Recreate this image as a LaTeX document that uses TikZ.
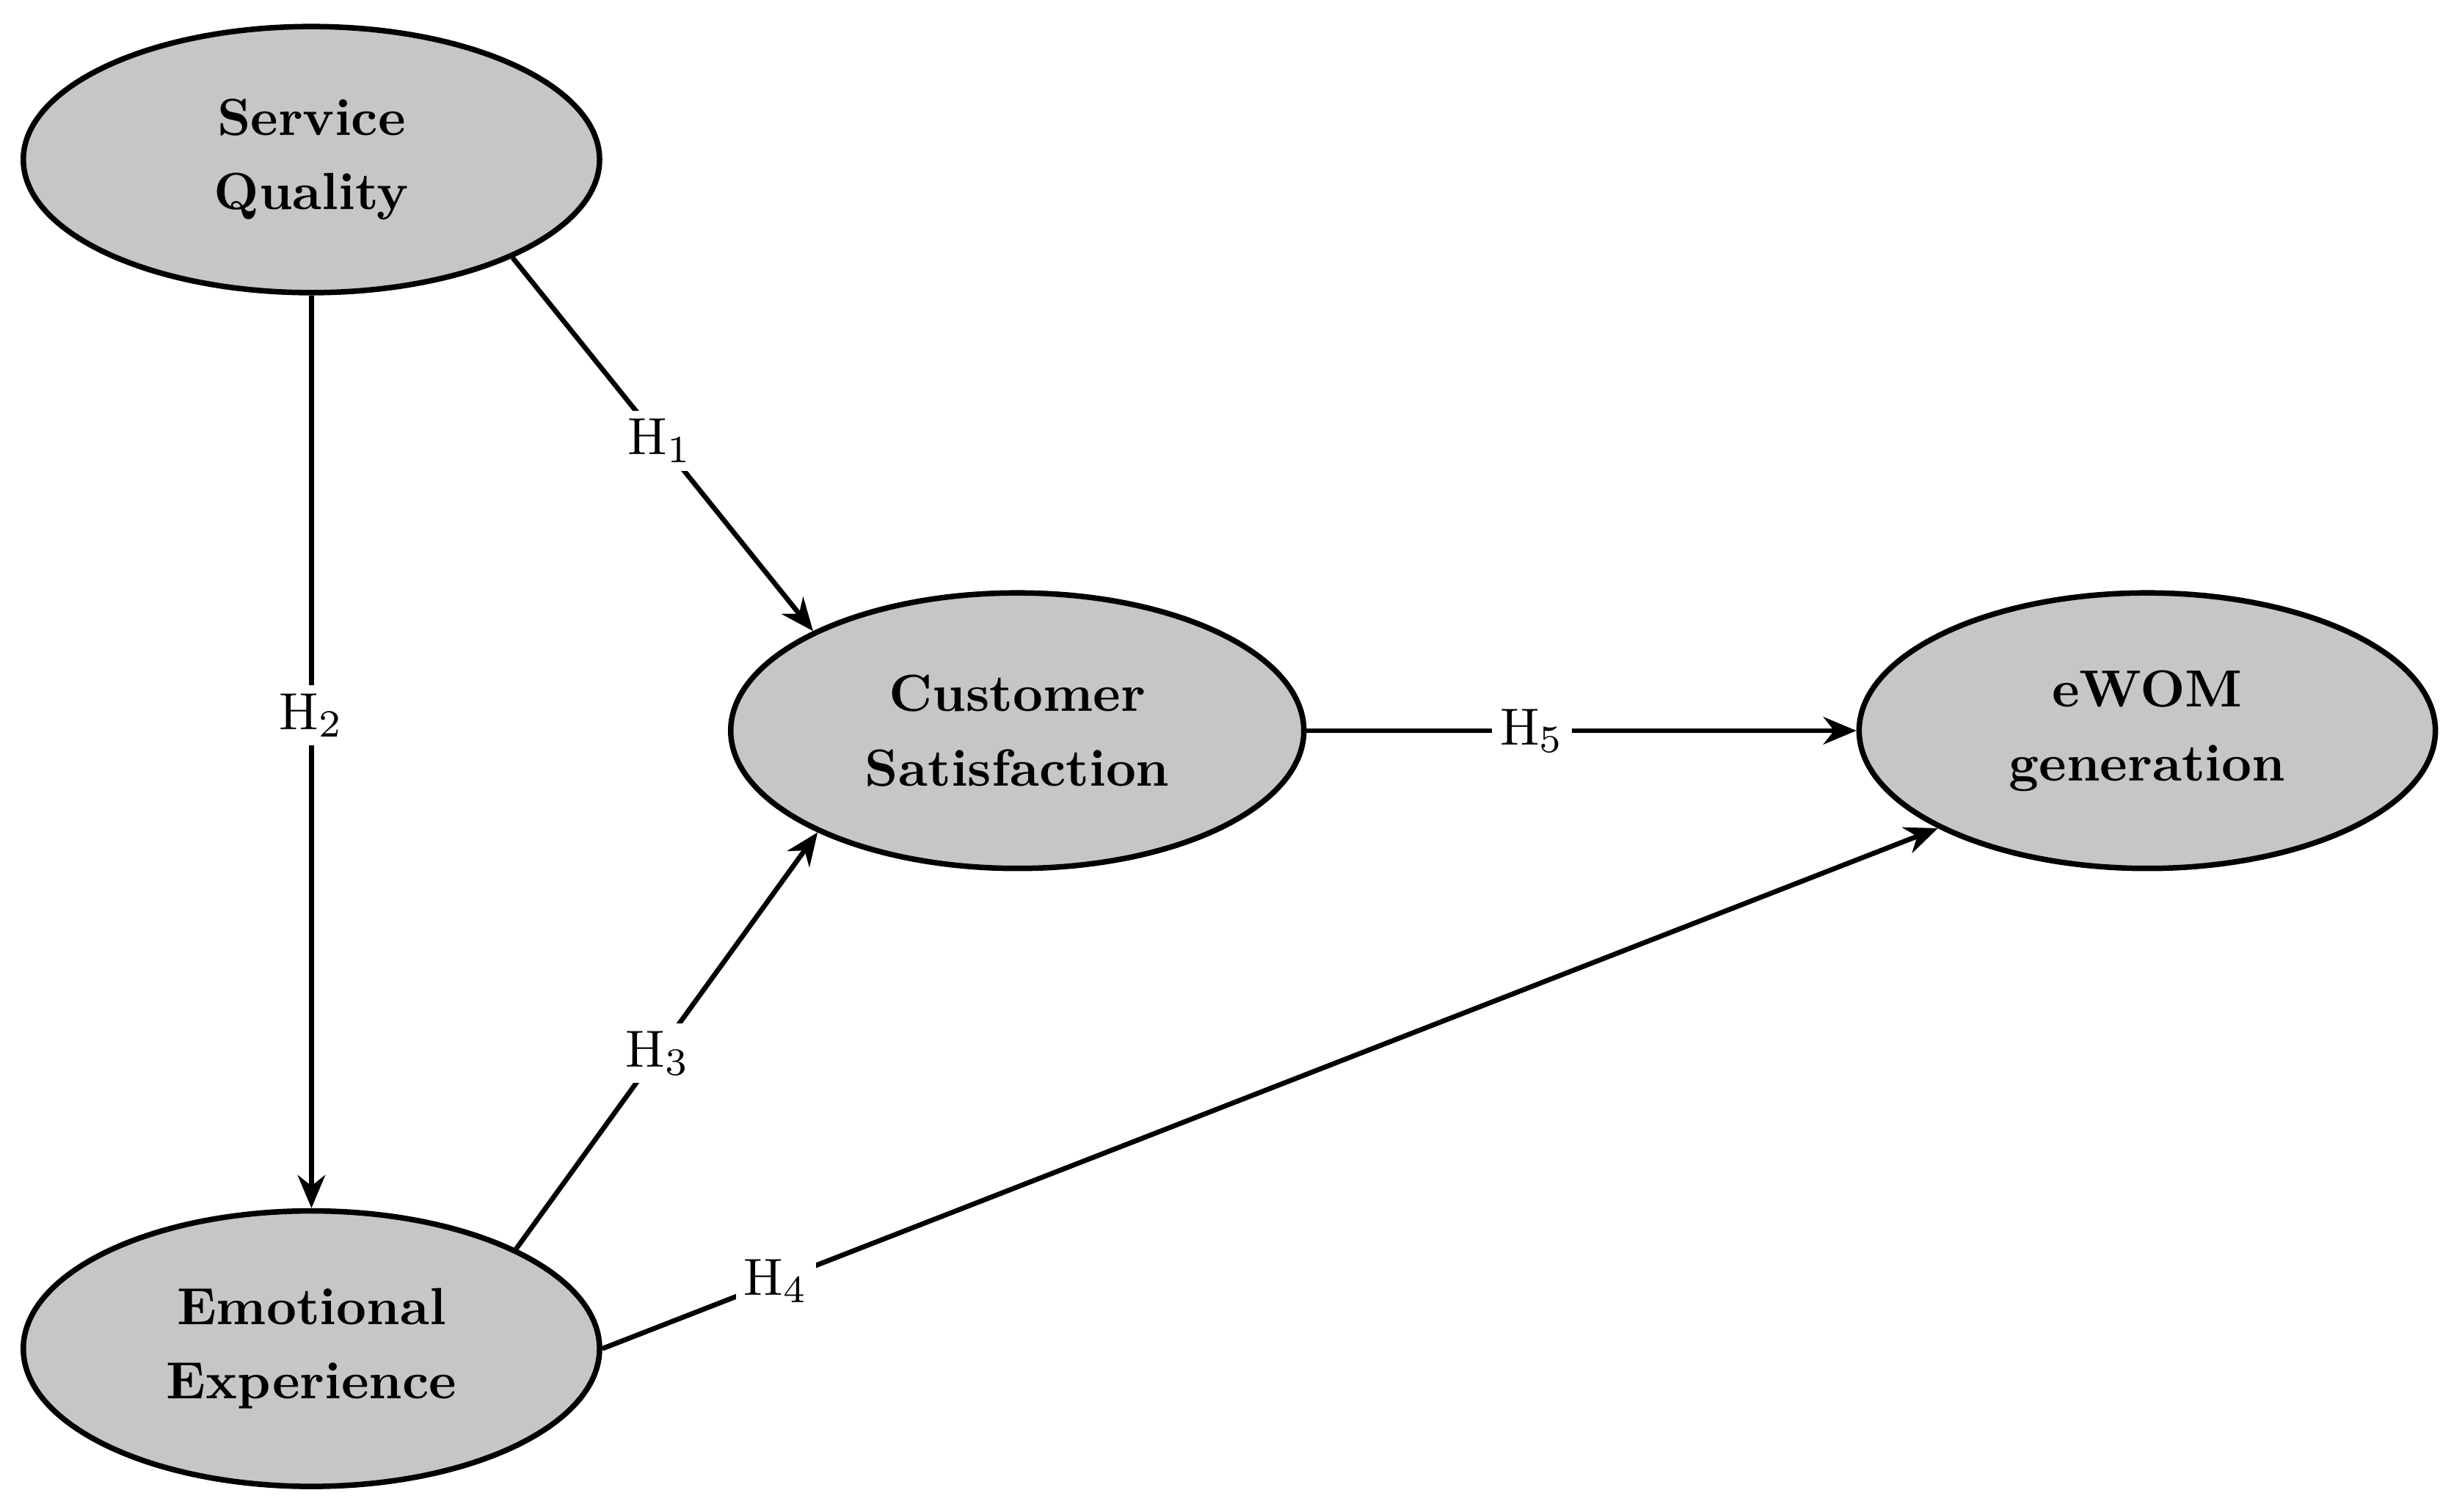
\documentclass[tikz,border=0pt]{standalone}
\usetikzlibrary{shapes.geometric,arrows.meta}
\begin{document}
\begin{tikzpicture}[x=0.01cm,y=-0.01cm,
  lat/.style={ellipse,draw=black,line width=1pt,fill=gray!45,minimum width=368\pgflinewidth,
    inner sep=0pt,align=center,font=\fontsize{9.5}{13.5}\selectfont\bfseries},
  arr/.style={line width=0.9pt,-{Stealth[length=6pt,width=5pt]}},
  hl/.style={fill=white,inner sep=1.5pt,font=\fontsize{9.5}{11}\selectfont}]
\useasboundingbox (0,0) rectangle (1568,966);
\node[lat,minimum width=3.68cm,minimum height=1.70cm] (sq) at (199,102) {Service\\Quality};
\node[lat,minimum width=3.66cm,minimum height=1.76cm] (cs) at (650,467) {Customer\\Satisfaction};
\node[lat,minimum width=3.68cm,minimum height=1.76cm] (ew) at (1372,467) {eWOM\\generation};
\node[lat,minimum width=3.68cm,minimum height=1.76cm] (ee) at (199,862) {Emotional\\Experience};
\draw[arr] (sq.south) -- node[hl,pos=0.46]{H$_2$} (ee.north);
\draw[arr] (sq.-26) -- node[hl,pos=0.49]{H$_1$} (cs.154);
\draw[arr] (ee.26) -- node[hl,pos=0.47]{H$_3$} (cs.207);
\draw[arr] (ee.0) -- node[hl,pos=0.13]{H$_4$} (ew.205);
\draw[arr] (cs.east) -- node[hl,pos=0.41]{H$_5$} (ew.west);
\end{tikzpicture}
\end{document}
